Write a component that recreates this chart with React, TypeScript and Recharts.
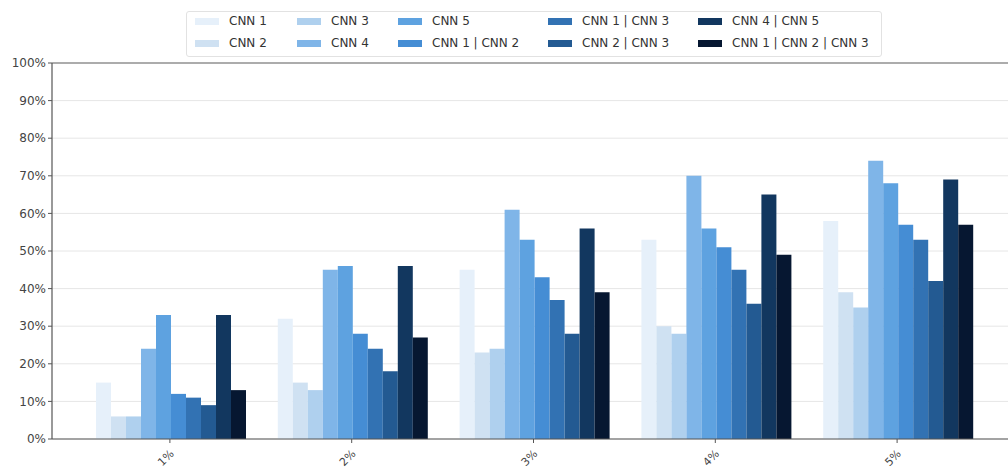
import React from "react";
import { BarChart, Bar, XAxis, YAxis, CartesianGrid, Legend, ReferenceLine } from "recharts";

const categories = ["1%", "2%", "3%", "4%", "5%"];
const seriesNames = [
  "CNN 1",
  "CNN 2",
  "CNN 3",
  "CNN 4",
  "CNN 5",
  "CNN 1 | CNN 2",
  "CNN 1 | CNN 3",
  "CNN 2 | CNN 3",
  "CNN 4 | CNN 5",
  "CNN 1 | CNN 2 | CNN 3",
];
const cnn1 = [15, 32, 45, 53, 58];
const cnn2 = [6, 15, 23, 30, 39];
const cnn3 = [6, 13, 24, 28, 35];
const cnn4 = [24, 45, 61, 70, 74];
const cnn5 = [33, 46, 53, 56, 68];
const cnn12 = [12, 28, 43, 51, 57];
const cnn13 = [11, 24, 37, 45, 53];
const cnn23 = [9, 18, 28, 36, 42];
const cnn45 = [33, 46, 56, 65, 69];
const cnn123 = [13, 27, 39, 49, 57];
const seriesValues = [cnn1, cnn2, cnn3, cnn4, cnn5, cnn12, cnn13, cnn23, cnn45, cnn123];
const colors = [
  "#e6f0fa",
  "#cfe1f2",
  "#afd0ee",
  "#7fb5e8",
  "#5ea2e0",
  "#458dd4",
  "#3272b3",
  "#235a92",
  "#12375f",
  "#061731",
];
const yTicks = [0, 10, 20, 30, 40, 50, 60, 70, 80, 90, 100];

const data = categories.map((c, i) => {
  const row: Record<string, string | number> = { category: c };
  seriesNames.forEach((s, j) => {
    row[s] = seriesValues[j][i];
  });
  return row;
});

const legendCols = [195, 297, 398, 548, 698];
const legendRows = [21, 43];

const LegendBox = () => (
  <div style={{ position: "absolute", left: 0, top: 0, width: 1008, height: 0 }}>
    <div
      style={{
        position: "absolute",
        left: 186,
        top: 11,
        width: 694,
        height: 44,
        border: "1px solid #e2e2e2",
        borderRadius: 3,
        background: "rgba(255,255,255,0.8)",
      }}
    />
    {seriesNames.map((s, i) => {
      const col = Math.floor(i / 2);
      const row = i % 2;
      return (
        <div
          key={s}
          style={{
            position: "absolute",
            left: legendCols[col],
            top: legendRows[row] - 8,
            height: 16,
            display: "flex",
            alignItems: "center",
            whiteSpace: "nowrap",
            fontFamily: "DejaVu Sans",
            fontSize: 12,
            color: "#333",
          }}
        >
          <span style={{ display: "inline-block", width: 24, height: 7, background: colors[i], marginRight: 10 }} />
          <span>{s}</span>
        </div>
      );
    })}
  </div>
);

const XTick = (props: any) => {
  const { x, y, payload } = props;
  const cx = x - 4;
  const cy = y + 13;
  return (
    <text
      x={cx}
      y={cy}
      textAnchor="middle"
      dominantBaseline="central"
      transform={`rotate(-45 ${cx} ${cy})`}
      fontFamily="DejaVu Sans"
      fontSize={11}
      fill="#444"
    >
      {payload.value}
    </text>
  );
};

export default function App() {
  return (
    <div style={{ position: "absolute", left: 0, top: 0, width: 1008, height: 468, background: "#fff" }}>
      <BarChart
        width={1008}
        height={468}
        data={data}
        margin={{ top: 63, right: 0, bottom: 0, left: 0 }}
        barCategoryGap={17}
        barGap={0}
      >
        <CartesianGrid vertical={false} stroke="#e6e6e6" />
        <XAxis
          dataKey="category"
          height={29}
          padding={{ left: 27, right: 20 }}
          tick={<XTick />}
          tickSize={4}
          stroke="#555"
          axisLine={{ stroke: "#555", strokeWidth: 1.2 }}
          tickLine={{ stroke: "#555" }}
          interval={0}
        />
        <YAxis
          width={52}
          domain={[0, 100]}
          ticks={yTicks}
          tickFormatter={(v: number) => `${v}%`}
          tickSize={4}
          interval={0}
          axisLine={{ stroke: "#555", strokeWidth: 1.2 }}
          tickLine={{ stroke: "#555" }}
          tick={{ fontFamily: "DejaVu Sans", fontSize: 12, fill: "#444" }}
        />
        <ReferenceLine y={100} stroke="#666" strokeWidth={1.2} />
        <Legend content={<LegendBox />} wrapperStyle={{ top: 0, left: 0, height: 0 }} />
        {seriesNames.map((s, i) => (
          <Bar key={s} dataKey={s} fill={colors[i]} isAnimationActive={false} />
        ))}
      </BarChart>
    </div>
  );
}
